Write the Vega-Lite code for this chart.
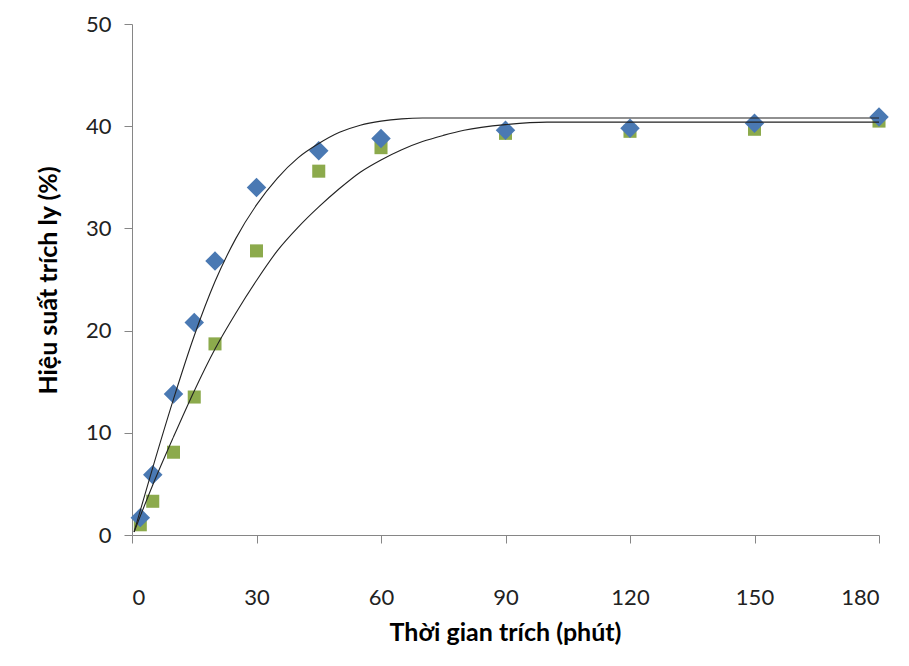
{
  "$schema": "https://vega.github.io/schema/vega-lite/v6.json",
  "width": 747,
  "height": 511,
  "autosize": {"type": "none"},
  "padding": {"left": 132, "top": 24, "right": 30, "bottom": 131},
  "background": "white",
  "config": {
    "view": {"stroke": null},
    "axis": {
      "grid": false,
      "domainColor": "#868686",
      "tickColor": "#868686",
      "tickSize": 8,
      "labelFont": "Lato",
      "labelFontSize": 22,
      "labelColor": "#222222",
      "titleFont": "Lato",
      "titleFontWeight": "bold",
      "titleFontSize": 25,
      "titleColor": "#000000"
    }
  },
  "datasets": {
    "points": [
      {"t": 2, "y": 1.0, "series": "B"},
      {"t": 5, "y": 3.3, "series": "B"},
      {"t": 10, "y": 8.1, "series": "B"},
      {"t": 15, "y": 13.5, "series": "B"},
      {"t": 20, "y": 18.7, "series": "B"},
      {"t": 30, "y": 27.8, "series": "B"},
      {"t": 45, "y": 35.6, "series": "B"},
      {"t": 60, "y": 37.9, "series": "B"},
      {"t": 90, "y": 39.3, "series": "B"},
      {"t": 120, "y": 39.5, "series": "B"},
      {"t": 150, "y": 39.7, "series": "B"},
      {"t": 180, "y": 40.5, "series": "B"},
      {"t": 2, "y": 1.7, "series": "A"},
      {"t": 5, "y": 5.9, "series": "A"},
      {"t": 10, "y": 13.8, "series": "A"},
      {"t": 15, "y": 20.8, "series": "A"},
      {"t": 20, "y": 26.8, "series": "A"},
      {"t": 30, "y": 34.0, "series": "A"},
      {"t": 45, "y": 37.6, "series": "A"},
      {"t": 60, "y": 38.8, "series": "A"},
      {"t": 90, "y": 39.6, "series": "A"},
      {"t": 120, "y": 39.8, "series": "A"},
      {"t": 150, "y": 40.3, "series": "A"},
      {"t": 180, "y": 40.9, "series": "A"}
    ],
    "curves": [
      {"t": 0.5, "y": 0.3, "curve": "A"},
      {"t": 5, "y": 6.6, "curve": "A"},
      {"t": 10, "y": 13.3, "curve": "A"},
      {"t": 15, "y": 19.5, "curve": "A"},
      {"t": 20, "y": 24.8, "curve": "A"},
      {"t": 25, "y": 29.0, "curve": "A"},
      {"t": 30, "y": 32.3, "curve": "A"},
      {"t": 35, "y": 34.9, "curve": "A"},
      {"t": 40, "y": 36.9, "curve": "A"},
      {"t": 45, "y": 38.3, "curve": "A"},
      {"t": 50, "y": 39.4, "curve": "A"},
      {"t": 55, "y": 40.1, "curve": "A"},
      {"t": 60, "y": 40.5, "curve": "A"},
      {"t": 65, "y": 40.72, "curve": "A"},
      {"t": 70, "y": 40.8, "curve": "A"},
      {"t": 180, "y": 40.8, "curve": "A"},
      {"t": 0.5, "y": 0.3, "curve": "B"},
      {"t": 5, "y": 4.9, "curve": "B"},
      {"t": 10, "y": 9.6, "curve": "B"},
      {"t": 15, "y": 14.1, "curve": "B"},
      {"t": 20, "y": 18.2, "curve": "B"},
      {"t": 25, "y": 21.7, "curve": "B"},
      {"t": 30, "y": 24.9, "curve": "B"},
      {"t": 35, "y": 27.8, "curve": "B"},
      {"t": 40, "y": 30.1, "curve": "B"},
      {"t": 45, "y": 32.1, "curve": "B"},
      {"t": 50, "y": 33.9, "curve": "B"},
      {"t": 55, "y": 35.5, "curve": "B"},
      {"t": 60, "y": 36.7, "curve": "B"},
      {"t": 65, "y": 37.7, "curve": "B"},
      {"t": 70, "y": 38.5, "curve": "B"},
      {"t": 75, "y": 39.1, "curve": "B"},
      {"t": 80, "y": 39.6, "curve": "B"},
      {"t": 90, "y": 40.15, "curve": "B"},
      {"t": 100, "y": 40.4, "curve": "B"},
      {"t": 180, "y": 40.4, "curve": "B"}
    ]
  },
  "encoding": {
    "x": {
      "field": "t",
      "type": "quantitative",
      "scale": {"domain": [0, 180], "nice": false, "zero": false},
      "axis": {
        "values": [0, 30, 60, 90, 120, 150, 180],
        "title": "Thời gian trích (phút)",
        "labelPadding": 44,
        "titleX": 373,
        "titleY": 97,
        "titleBaseline": "middle",
        "titleAlign": "center"
      }
    },
    "y": {
      "field": "y",
      "type": "quantitative",
      "scale": {"domain": [0, 50], "nice": false},
      "axis": {
        "values": [0, 10, 20, 30, 40, 50],
        "title": "Hiệu suất trích ly (%)",
        "labelPadding": 13,
        "titleX": -84,
        "titleY": 256,
        "titleAngle": -90,
        "titleBaseline": "middle",
        "titleAlign": "center"
      }
    }
  },
  "layer": [
    {
      "data": {"name": "points"},
      "transform": [{"filter": "datum.series === 'B'"}],
      "mark": {"type": "point", "shape": "square", "filled": true, "opacity": 1, "size": 170, "color": "#8CAA4C"}
    },
    {
      "data": {"name": "points"},
      "transform": [{"filter": "datum.series === 'A'"}],
      "mark": {"type": "point", "shape": "diamond", "filled": true, "opacity": 1, "size": 380, "color": "#4A79B3"}
    },
    {
      "data": {"name": "curves"},
      "mark": {"type": "line", "interpolate": "monotone", "color": "#222222", "strokeWidth": 1.1},
      "encoding": {"detail": {"field": "curve"}}
    }
  ]
}
